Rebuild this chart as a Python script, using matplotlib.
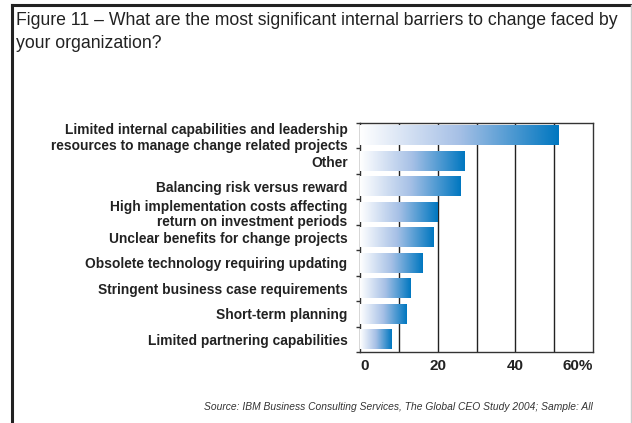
import matplotlib
matplotlib.use("Agg")
import matplotlib.pyplot as plt
import numpy as np
from matplotlib.colors import LinearSegmentedColormap
from matplotlib.lines import Line2D

# data
categories = [
    "Limited internal capabilities and leadership\nresources to manage change related projects",
    "Other",
    "Balancing risk versus reward",
    "High implementation costs affecting\nreturn on investment periods",
    "Unclear benefits for change projects",
    "Obsolete technology requiring updating",
    "Stringent business case requirements",
    "Short-term planning",
    "Limited partnering capabilities",
]
values = [51, 27, 26, 20, 19, 16, 13, 12, 8]
tick_values = [0, 20, 40, 60]
tick_labels = ["0", "20", "40", "60%"]

title = ("Figure 11 \u2013 What are the most significant internal barriers to change faced by\n"
         "your organization?")
source = "Source: IBM Business Consulting Services, The Global CEO Study 2004; Sample: All"

plt.rcParams["font.family"] = ["Liberation Sans", "DejaVu Sans"]

W, H = 632, 423
fig = plt.figure(figsize=(W / 100, H / 100), dpi=100)

# outer frame
fig.add_artist(Line2D([12 / W, 12 / W], [0, 1 - 5 / H], transform=fig.transFigure,
                      color="#222222", linewidth=2.2))
fig.add_artist(Line2D([12 / W, 631 / W], [1 - 5 / H, 1 - 5 / H], transform=fig.transFigure,
                      color="#222222", linewidth=2.2))
fig.add_artist(Line2D([631 / W, 631 / W], [0, 1 - 5 / H], transform=fig.transFigure,
                      color="#cccccc", linewidth=1.0))

fig.text(16 / W, 1 - 12 / H, title, ha="left", va="top", fontsize=12.7,
         color="#222222", linespacing=1.5)

ax = fig.add_axes([360 / W, (H - 352) / H, (593 - 360) / W, (352 - 123) / H])

cmap = LinearSegmentedColormap.from_list("ibm", ["#ffffff", "#a6c0e6", "#0077c0"])
grad = np.linspace(0, 1, 256).reshape(1, -1)
bar_h = 0.76
for i, v in enumerate(values):
    ax.imshow(grad, cmap=cmap, aspect="auto", interpolation="bilinear",
              extent=(0, v, i + bar_h / 2, i - bar_h / 2), zorder=3)

ax.set_xlim(0, 60)
ax.set_ylim(len(values) - 0.53, -0.47)

for x in range(10, 60, 10):
    ax.axvline(x, color="#222222", linewidth=1.0, zorder=1)

for s in ax.spines.values():
    s.set_color("#333333")
    s.set_linewidth(1.0)

ax.set_yticks(range(len(categories)))
ax.set_yticklabels(categories, fontsize=9.9, fontweight="bold", color="#222222",
                   linespacing=1.12)
ax.tick_params(axis="y", length=0, pad=9)
ax.set_yticks(np.arange(-0.5, len(values), 1.0), minor=True)
ax.tick_params(axis="y", which="minor", length=3, width=1, color="#333333")

ax.set_xticks(tick_values)
ax.set_xticklabels(tick_labels, fontsize=11, fontweight="bold", color="#222222")
ax.tick_params(axis="x", length=0, pad=5)
labels = ax.get_xticklabels()
labels[0].set_ha("left")
labels[-1].set_ha("right")

fig.text(593 / W, 1 - 407 / H, source, ha="right", va="center", fontsize=7.4,
         style="italic", color="#333333")

fig.savefig("out.png", dpi=100)
